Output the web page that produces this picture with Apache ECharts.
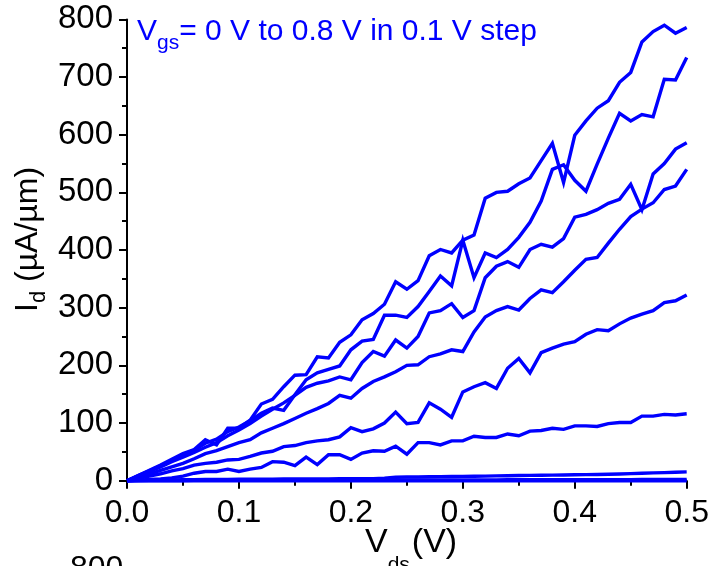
<!DOCTYPE html>
<html>
<head>
<meta charset="utf-8">
<script src="https://cdn.jsdelivr.net/npm/echarts@6/dist/echarts.min.js"></script>
<style>
html,body{margin:0;padding:0;background:#fff;}
#c{width:712px;height:566px;}
</style>
</head>
<body>
<div id="c"></div>
<script>
// Vds values (V)
const vds = [0.00,0.01,0.02,0.03,0.04,0.05,0.06,0.07,0.08,0.09,
             0.10,0.11,0.12,0.13,0.14,0.15,0.16,0.17,0.18,0.19,
             0.20,0.21,0.22,0.23,0.24,0.25,0.26,0.27,0.28,0.29,
             0.30,0.31,0.32,0.33,0.34,0.35,0.36,0.37,0.38,0.39,
             0.40,0.41,0.42,0.43,0.44,0.45,0.46,0.47,0.48,0.49,
             0.50];
// Id (uA/um) for each Vgs curve
const id_a = [0,9,18,27,37,47,54,71,62,91,
              91,105,133,141,163,183,184,215,213,240,
              253,279,290,306,345,332,347,390,401,395,
              417,426,490,500,502,515,525,555,585,517,
              599,624,646,659,691,708,761,779,790,776,
              786];
const id_b = [0,9,17,26,35,45,53,65,72,85,
              93,104,117,126,122,149,175,187,193,199,
              227,242,245,287,287,283,302,328,355,338,
              417,352,395,387,401,422,448,485,540,548,
              521,502,549,594,637,624,635,631,696,695,
              734];
const id_c = [0,8,16,24,33,41,49,58,66,78,
              88,99,112,124,135,148,162,169,173,180,
              175,205,224,216,244,230,250,291,295,307,
              283,295,352,372,380,370,401,410,405,420,
              457,462,470,481,488,514,470,532,550,575,
              586];
const id_d = [0,6,12,18,24,30,38,47,52,59,
              66,71,83,91,99,108,117,125,134,148,
              143,160,172,180,189,200,201,215,220,227,
              224,258,284,295,302,296,316,331,326,345,
              365,384,387,412,436,458,471,482,505,511,
              540];
const id_e = [0,4,8,12,17,21,27,30,32,36,
              37,42,48,51,59,61,66,69,71,76,
              92,85,90,100,119,99,101,135,124,110,
              154,163,170,160,195,212,187,222,230,237,
              241,254,262,260,272,282,289,295,309,312,
              322];
const id_f = [0,1,2,3,5,8,13,16,16,20,
              16,20,23,33,32,26,41,28,45,45,
              37,48,52,51,60,46,66,66,62,69,
              69,77,75,75,81,78,86,87,91,89,
              95,95,94,99,101,101,112,112,115,114,
              116];
const id_g = [0,0.4,0.8,1,1.3,1.6,1.8,2,2.1,2.3,
              2.5,2.6,2.7,2.8,2.9,3,3.1,3.1,3.2,3.3,
              3.4,3.5,3.6,4.5,6,6.3,6.5,6.8,7,7.2,
              7.5,7.8,8,8.3,8.6,9,9.2,9.4,9.7,10,
              10.3,10.6,10.8,11.2,11.6,12.2,13,13.6,14,14.6,
              15.3];
const id_h = [0,0.1,0.2,0.3,0.4,0.4,0.5,0.5,0.6,0.6,
              0.7,0.7,0.8,0.8,0.9,0.9,1,1,1,1.1,
              1.1,1.1,1.2,1.2,1.2,1.3,1.3,1.3,1.4,1.4,
              1.4,1.5,1.5,1.5,1.6,1.6,1.6,1.7,1.7,1.7,
              1.8,1.8,1.8,1.9,1.9,1.9,2,2,2,2.1,
              2.1];
const id_i = [0,0,0,0,0,0,0,0,0,0,
              0,0,0,0,0,0,0,0,0,0,
              0,0,0,0,0,0,0,0,0,0,
              0,0,0,0,0,0,0,0,0,0,
              0,0,0,0,0,0,0,0,0,0,
              0];
const curves = [id_i, id_h, id_g, id_f, id_e, id_d, id_c, id_b, id_a];
const xTicks = [0, 0.1, 0.2, 0.3, 0.4, 0.5];
const yTicks = [0, 100, 200, 300, 400, 500, 600, 700, 800];

const FAMILY = 'Liberation Sans';
const FF = '"Liberation Sans", Arial, sans-serif';
const BLUE = '#0000ff';

const mctx = document.createElement('canvas').getContext('2d');
function tw(text, fs) {
  mctx.font = fs + 'px ' + FF;
  return mctx.measureText(text).width;
}
function txt(text, x, y, fs, color, extra) {
  return Object.assign({
    type: 'text', x: x, y: y, silent: true,
    style: {text: text, fontSize: fs, fontFamily: FAMILY, fill: color, align: 'left', verticalAlign: 'middle'}
  }, extra || {});
}

const chart = echarts.init(document.getElementById('c'), null, {renderer: 'canvas'});

const axisCommon = {
  axisLine: {show: true, onZero: false, lineStyle: {color: '#000', width: 2}},
  axisTick: {show: true, inside: false, length: 8, lineStyle: {color: '#000', width: 2}},
  minorTick: {show: true, splitNumber: 2, length: 5, lineStyle: {color: '#000', width: 2}},
  splitLine: {show: false},
  minorSplitLine: {show: false}
};

// annotation pieces
const annX0 = 137;
const annX1 = annX0 + tw('V', 30);
const annX2 = annX1 + tw('gs', 21);
// x-axis name pieces
const xnX0 = 365;
const xnX1 = xnX0 + tw('V', 34);
const xnX2 = xnX1 + tw('ds', 21) + 2;
// y-axis name pieces (rotated, reading upward)
const ynY0 = 312;
const ynY1 = ynY0 - tw('I', 32);
const ynY2 = ynY1 - tw('d', 22);

chart.setOption({
  animation: false,
  backgroundColor: '#fff',
  grid: {left: 127, top: 19.4, right: 25.3, bottom: 85.3, containLabel: false, outerBoundsMode: 'none'},
  xAxis: Object.assign({
    type: 'value',
    min: xTicks[0], max: xTicks[xTicks.length - 1], interval: 0.1,
    axisLabel: {fontSize: 32, color: '#000', fontFamily: FAMILY, margin: 16,
      formatter: v => v.toFixed(1), showMinLabel: true, showMaxLabel: true, hideOverlap: false}
  }, axisCommon),
  yAxis: Object.assign({
    type: 'value',
    min: yTicks[0], max: yTicks[yTicks.length - 1], interval: 100,
    axisLabel: {fontSize: 33, color: '#000', fontFamily: FAMILY, margin: 14,
      showMinLabel: true, showMaxLabel: true, hideOverlap: false}
  }, axisCommon),
  series: curves.map((arr, k) => ({
    type: 'line',
    name: 'Vgs=' + (k * 0.1).toFixed(1),
    data: vds.map((x, i) => [x, arr[i]]),
    showSymbol: false,
    symbol: 'none',
    clip: false,
    lineStyle: {color: BLUE, width: 3.4, join: 'miter', miterLimit: 4},
    itemStyle: {color: BLUE},
    emphasis: {disabled: true}
  })),
  graphic: [
    txt('V', annX0, 32, 30, BLUE),
    txt('gs', annX1, 43, 21, BLUE),
    txt('= 0 V to 0.8 V in 0.1 V step', annX2, 32, 30, BLUE),
    txt('V', xnX0, 543, 34, '#000'),
    txt('ds', xnX1, 565, 21, '#000'),
    txt('(V)', xnX2, 543, 34, '#000'),
    txt('I', 28, ynY0, 32, '#000', {rotation: Math.PI / 2}),
    txt('d', 39, ynY1, 22, '#000', {rotation: Math.PI / 2}),
    txt(' (µA/µm)', 28, ynY2, 32, '#000', {rotation: Math.PI / 2}),
    txt('800', 70, 569, 32, '#000')
  ]
});
</script>
</body>
</html>
